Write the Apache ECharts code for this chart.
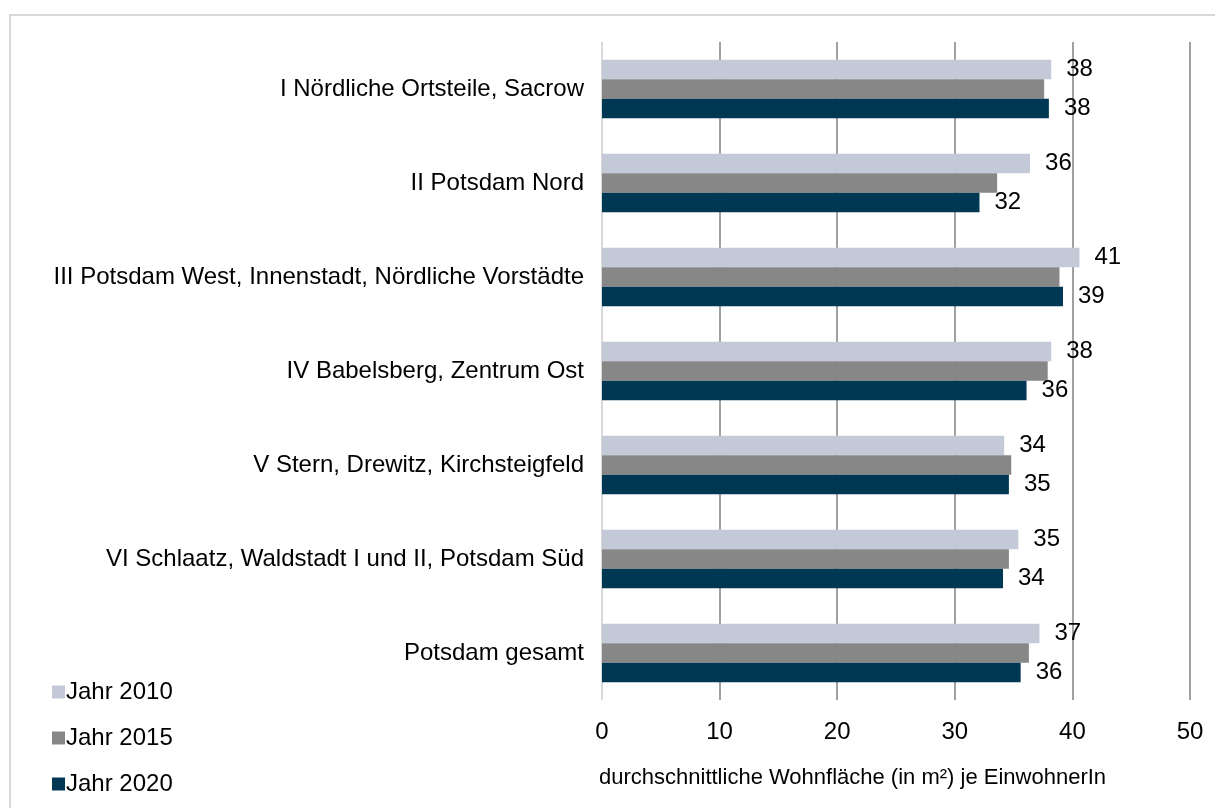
<!DOCTYPE html>
<html>
<head>
<meta charset="utf-8">
<script src="https://cdn.jsdelivr.net/npm/echarts@6/dist/echarts.min.js"></script>
<style>
html,body{margin:0;padding:0;background:#fff;}
#chart{width:1215px;height:808px;}
</style>
</head>
<body>
<div id="chart"></div>
<script>
const categories = [
  'I Nördliche Ortsteile, Sacrow',
  'II Potsdam Nord',
  'III Potsdam West, Innenstadt, Nördliche Vorstädte',
  'IV Babelsberg, Zentrum Ost',
  'V Stern, Drewitz, Kirchsteigfeld',
  'VI Schlaatz, Waldstadt I und II, Potsdam Süd',
  'Potsdam gesamt'
];
const seriesNames = ['Jahr 2010', 'Jahr 2015', 'Jahr 2020'];
const values2010 = [38.2, 36.4, 40.6, 38.2, 34.2, 35.4, 37.2];
const values2015 = [37.6, 33.6, 38.9, 37.9, 34.8, 34.6, 36.3];
const values2020 = [38.0, 32.1, 39.2, 36.1, 34.6, 34.1, 35.6];
const xTicks = [0, 10, 20, 30, 40, 50];
const axisTitle = 'durchschnittliche Wohnfläche (in m²) je EinwohnerIn';

const FONT = '"Liberation Sans", Arial, sans-serif';
const colors = ['#c3c9d7', '#878787', '#003753'];

const chart = echarts.init(document.getElementById('chart'), null, {renderer: 'canvas'});

function labelCfg(show) {
  return {
    show: show,
    position: 'right',
    distance: 15,
    color: '#000',
    fontFamily: FONT,
    fontSize: 24,
    formatter: p => String(Math.round(p.value))
  };
}

const valueLists = [values2010, values2015, values2020];

chart.setOption({
  backgroundColor: '#fff',
  animation: false,
  color: colors,
  textStyle: {fontFamily: FONT},
  graphic: [{
    type: 'rect',
    shape: {x: 10, y: 15, width: 1300, height: 900},
    style: {fill: 'none', stroke: '#d9d9d9', lineWidth: 2},
    silent: true
  }],
  title: {
    text: axisTitle,
    left: 594,
    top: 762,
    textStyle: {fontFamily: FONT, fontSize: 22, fontWeight: 'normal', color: '#000'}
  },
  legend: {
    orient: 'vertical',
    left: 47,
    top: 675,
    itemWidth: 13,
    itemHeight: 13,
    itemGap: 22,
    itemStyle: {borderWidth: 0},
    textStyle: {fontFamily: FONT, fontSize: 24, color: '#000', padding: [0, 0, 0, -4]},
    icon: 'rect',
    data: seriesNames
  },
  grid: {left: 602, right: 25, top: 42, bottom: 108, containLabel: false},
  xAxis: {
    type: 'value',
    min: xTicks[0],
    max: xTicks[xTicks.length - 1],
    interval: 10,
    axisLine: {show: false},
    axisTick: {show: false},
    axisLabel: {margin: 20, color: '#000', fontFamily: FONT, fontSize: 24},
    splitLine: {show: true, lineStyle: {width: 2, color: ['#d9d9d9', '#a0a0a0', '#a0a0a0', '#a0a0a0', '#a0a0a0', '#a0a0a0']}}
  },
  yAxis: {
    type: 'category',
    inverse: true,
    data: categories,
    axisLine: {show: false},
    axisTick: {show: false},
    axisLabel: {margin: 18, color: '#000', fontFamily: FONT, fontSize: 24}
  },
  series: seriesNames.map((name, i) => ({
    name: name,
    type: 'bar',
    data: valueLists[i],
    barWidth: 19.5,
    barGap: '0%',
    label: labelCfg(i !== 1)
  }))
});
</script>
</body>
</html>
